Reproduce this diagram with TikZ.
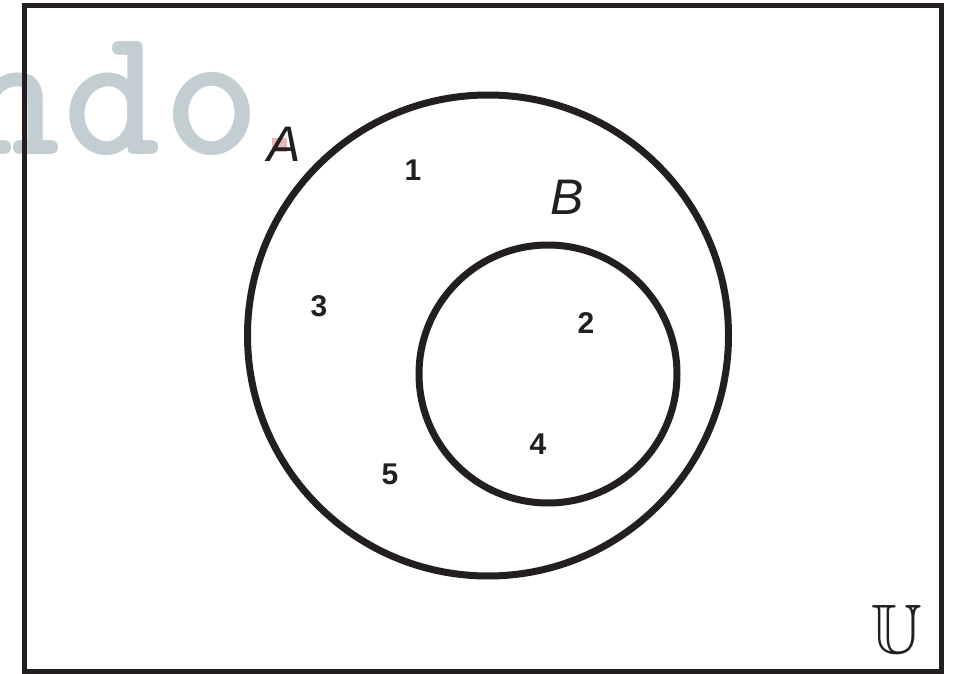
\documentclass[tikz,border=0pt]{standalone}
\usepackage{amssymb}
\usepackage{fontspec}
\setmainfont{Liberation Sans}
\definecolor{wmgray}{HTML}{C3CED2}
\definecolor{wmpink}{HTML}{E9B9B9}
\definecolor{ink}{HTML}{231F20}
\tikzset{
  setlabel/.style={inner sep=0pt, font=\fontsize{50}{60}\selectfont\itshape, text=ink},
  numlabel/.style={inner sep=0pt, font=\fontsize{30}{36}\selectfont\bfseries, text=ink},
  wmchar/.style={inner sep=0pt, anchor=base, font=\ttfamily\bfseries\fontsize{185}{190}\selectfont, text=wmgray},
  setcircle/.style={circle, draw=ink, line width=7pt, inner sep=0pt},
}
\begin{document}
\begin{tikzpicture}[x=1pt,y=-1pt]
\useasboundingbox (0,0) rectangle (954,674);
\fill[white] (0,0) rectangle (954,674);
\begin{scope}
\clip (0,0) rectangle (954,674);
\node[wmchar] (wn) at (12,155) {n};
\node[wmchar] (wd) at (112,155) {d};
\node[wmchar] (wo) at (212,155) {o};
\end{scope}
\fill[wmpink] (272,138) rectangle (287,152);
\draw[ink, line width=5pt] (24,6) rectangle (941,671);
\node[setcircle, minimum size=481pt] (A) at (488,335.5) {};
\node[setcircle, minimum size=258pt] (B) at (548,374) {};
\node[setlabel] (la) at (284,144) {A};
\node[setlabel] (lb) at (567,197) {B};
\node[numlabel] (n1) at (413,170) {1};
\node[numlabel] (n3) at (319,306) {3};
\node[numlabel] (n2) at (586,323) {2};
\node[numlabel] (n4) at (538,444) {4};
\node[numlabel] (n5) at (390,474) {5};
\node[inner sep=0pt, font=\fontsize{70}{80}\selectfont, text=ink] (U) at (897,629) {$\mathbb{U}$};
\end{tikzpicture}
\end{document}
